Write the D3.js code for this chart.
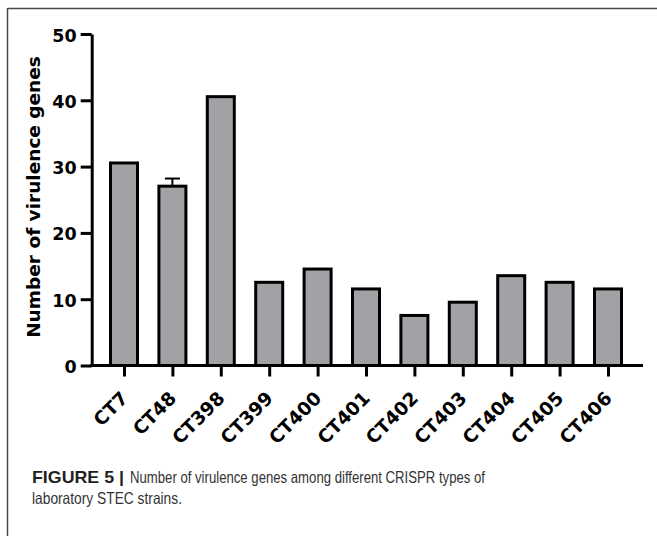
<!DOCTYPE html>
<html><head><meta charset="utf-8">
<script src="https://cdn.jsdelivr.net/npm/d3@7"></script>
<style>body{margin:0;background:#fff}svg{display:block}</style>
</head><body>
<svg id="c" width="657" height="536"></svg>
<script>
const categories = ["CT7","CT48","CT398","CT399","CT400","CT401","CT402","CT403","CT404","CT405","CT406"];
const values = [31, 27.5, 41, 13, 15, 12, 8, 10, 14, 13, 12];
const errors = [0, 0.7, 0, 0, 0, 0, 0, 0, 0, 0, 0];
const yTicks = [0, 10, 20, 30, 40, 50];
const yTitle = "Number of virulence genes";
const captionBold = "FIGURE 5 |";
const captionLine1 = "Number of virulence genes among different CRISPR types of";
const captionLine2 = "laboratory STEC strains.";

const svg = d3.select("#c");
const axisFont = "'DejaVu Sans', sans-serif";

// frame lines (top and left)
svg.append("line").attr("x1", 7.5).attr("x2", 657).attr("y1", 8.5).attr("y2", 8.5)
  .attr("stroke", "#4a4a4a").attr("stroke-width", 1.5);
svg.append("line").attr("x1", 7.5).attr("x2", 7.5).attr("y1", 8).attr("y2", 536)
  .attr("stroke", "#4a4a4a").attr("stroke-width", 1.5);

const y = d3.scaleLinear().domain([0, 50]).range([365.5, 34]);
const x = d3.scalePoint().domain(categories).range([124, 608]);
const axisX = 91.7;
const barW = 27;

// bars
svg.append("g").selectAll("rect").data(categories).join("rect")
  .attr("x", (d) => x(d) - barW / 2)
  .attr("y", (d, i) => y(values[i]) + 3)
  .attr("width", barW)
  .attr("height", (d, i) => y(0) - y(values[i]) - 3)
  .attr("fill", "#a2a2a6")
  .attr("stroke", "#000")
  .attr("stroke-width", 3);

// error bars
const eg = svg.append("g").attr("stroke", "#000").attr("stroke-width", 2);
categories.forEach((c, i) => {
  if (!errors[i]) return;
  const top = y(values[i] + errors[i]);
  eg.append("line").attr("x1", x(c)).attr("x2", x(c)).attr("y1", y(values[i]) + 2).attr("y2", top);
  eg.append("line").attr("x1", x(c) - 7.5).attr("x2", x(c) + 7.5).attr("y1", top).attr("y2", top);
});

// y axis
const ya = svg.append("g").attr("transform", `translate(${axisX},0)`)
  .call(d3.axisLeft(y).tickValues(yTicks).tickSize(11).tickSizeOuter(0).tickPadding(4).tickFormat(d3.format("d")));
ya.select(".domain").attr("stroke-width", 3).attr("stroke", "#000");
ya.selectAll(".tick line").attr("stroke-width", 3).attr("stroke", "#000");
ya.selectAll(".tick text").attr("font-family", axisFont).attr("font-weight", "bold")
  .attr("font-size", 17.5).attr("fill", "#000").attr("dy", "0.4em");

// x axis
svg.append("line").attr("x1", axisX - 1.5).attr("x2", 643).attr("y1", y(0)).attr("y2", y(0))
  .attr("stroke", "#000").attr("stroke-width", 3);
const xa = svg.append("g").attr("transform", `translate(0,${y(0)})`)
  .call(d3.axisBottom(x).tickSize(11).tickSizeOuter(0));
xa.select(".domain").remove();
xa.selectAll(".tick line").attr("stroke-width", 3).attr("stroke", "#000");
xa.selectAll(".tick text")
  .attr("font-family", axisFont).attr("font-weight", "bold").attr("font-size", 18.5).attr("fill", "#000")
  .attr("text-anchor", "end").attr("dy", null).attr("y", null)
  .attr("transform", "translate(4.5,34) rotate(-45)");

// y title
svg.append("text").attr("transform", "translate(39.5,197) rotate(-90)")
  .attr("text-anchor", "middle").attr("font-family", axisFont).attr("font-weight", "bold")
  .attr("font-size", 18.5).attr("fill", "#000").text(yTitle);

// caption
const capFont = "'Liberation Sans Narrow', 'Arial Narrow', 'Liberation Sans', sans-serif";
svg.append("text").attr("x", 32).attr("y", 483).attr("font-family", capFont).attr("font-weight", "bold")
  .attr("font-size", 16.5).attr("fill", "#231f20").attr("textLength", 92).attr("lengthAdjust", "spacingAndGlyphs")
  .text(captionBold);
svg.append("text").attr("x", 130).attr("y", 483).attr("font-family", capFont)
  .attr("font-size", 16.5).attr("fill", "#333").attr("textLength", 355).attr("lengthAdjust", "spacingAndGlyphs")
  .text(captionLine1);
svg.append("text").attr("x", 32).attr("y", 504).attr("font-family", capFont)
  .attr("font-size", 16.5).attr("fill", "#333").attr("textLength", 150).attr("lengthAdjust", "spacingAndGlyphs")
  .text(captionLine2);
</script>
</body></html>
